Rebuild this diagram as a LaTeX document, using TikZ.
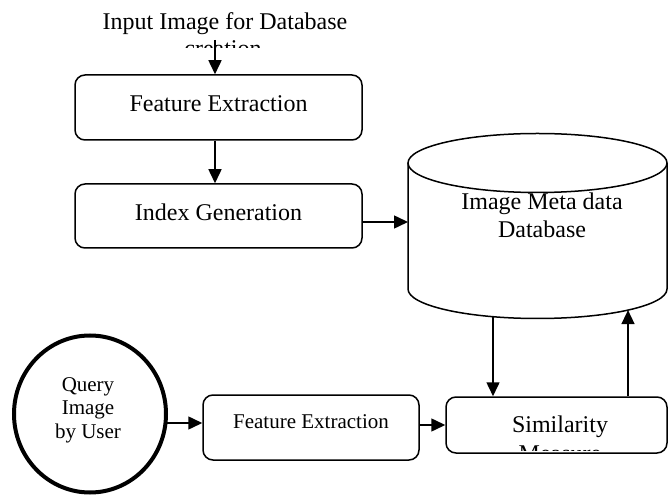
\documentclass[tikz,border=0pt]{standalone}
\usepackage{fontspec}
\setmainfont{Liberation Serif}
\usetikzlibrary{arrows.meta}
\begin{document}
\begin{tikzpicture}[x=1pt,y=1pt,
  box/.style={draw,line width=1.5pt,rounded corners=10pt,inner sep=0pt},
  arr/.style={line width=1.5pt,-{Triangle[length=14pt,width=13pt]}},
  big/.style={font=\fontsize{24}{28}\selectfont},
  small/.style={font=\fontsize{21}{23.5}\selectfont}]
\useasboundingbox (0,0) rectangle (668,495);
% title
\node[big,anchor=base,inner sep=0pt] (title) at (225,465) {Input Image for Database};
\begin{scope}
\clip (100,447) rectangle (350,470);
\node[big,anchor=base,inner sep=0pt] (title2) at (223,438) {creation};
\end{scope}
\coordinate (t1) at (215,455);
% boxes
\node[box,big,minimum width=287pt,minimum height=65pt,text depth=8pt] (fe1) at (218.5,387.5) {Feature Extraction};
\node[box,big,minimum width=287pt,minimum height=64pt,text depth=8pt] (ig) at (218.5,279) {Index Generation};
% cylinder
\draw[line width=1.5pt] (537.5,332) ellipse [x radius=129.5, y radius=29.5];
\draw[line width=1.5pt] (408,332) -- (408,206) arc[start angle=180,end angle=360,x radius=129.5,y radius=29.5] -- (667,332);
\node[big,align=center,anchor=base,inner sep=0pt] (db) at (542,257) {Image Meta data\\Database};
\coordinate (dbin) at (408,273);
\coordinate (dbo1) at (493,178.3);
\coordinate (dbo2) at (628,184.9);
% query circle
\draw[line width=4pt] (90,81) ellipse [x radius=76, y radius=78.5];
\node[small,align=center,inner sep=0pt,anchor=base] (q) at (88,57) {Query\\Image\\by User};
\coordinate (qout) at (166,72);
\node[box,small,minimum width=216pt,minimum height=65pt,text depth=12pt] (fe2) at (311,67.5) {Feature Extraction};
\node[box,minimum width=221pt,minimum height=56pt] (sim) at (556.5,70) {};
\node[big,anchor=base,inner sep=0pt] (sim1) at (560,63) {Similarity};
\begin{scope}
\clip (450,45) rectangle (660,60);
\node[big,anchor=base,inner sep=0pt] (sim2) at (560,34) {Measure};
\end{scope}
% connectors
\draw[arr] (t1) -- (t1 |- fe1.north);
\draw[arr] (fe1.south -| t1) -- (ig.north -| t1);
\draw[arr] (ig.east |- dbin) -- (dbin);
\draw[arr] (qout) -- (fe2.west |- qout);
\draw[arr] (fe2.east |- 0,70) -- (sim.west |- 0,70);
\draw[arr] (dbo1) -- (dbo1 |- sim.north);
\draw[arr] (dbo2 |- sim.north) -- (dbo2);
\end{tikzpicture}
\end{document}
